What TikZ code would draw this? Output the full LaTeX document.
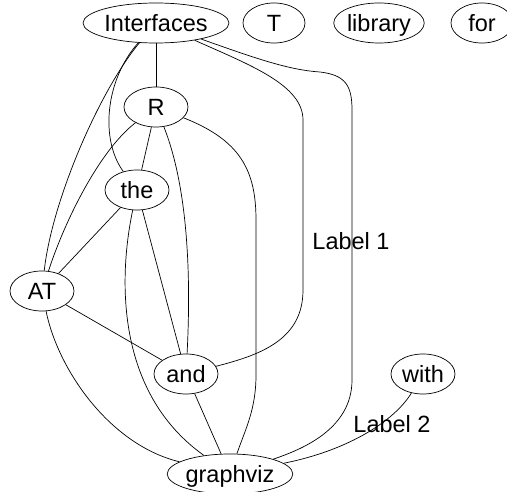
\documentclass[tikz,border=0pt]{standalone}
\usepackage{fontspec}
\setmainfont{Liberation Sans}
\usetikzlibrary{shapes.geometric}
\begin{document}
\begin{tikzpicture}[x=1pt,y=-1pt,
  vtx/.style={draw,ellipse,inner sep=0pt,minimum height=40pt,line width=0.7pt,
    font=\fontsize{23.5}{27}\selectfont,text height=17pt,text depth=0pt},
  lbl/.style={inner sep=0pt,font=\fontsize{23.5}{27}\selectfont,text height=17pt,text depth=0pt},
  edge/.style={line width=0.7pt}]
\useasboundingbox (0,0) rectangle (507,492);
\node[vtx,minimum width=114pt] (Interfaces) at (156,23) {Interfaces};
\node[vtx,minimum width=62pt] (T) at (274,23) {T};
\node[vtx,minimum width=82pt] (library) at (379,23) {library};
\node[vtx,minimum width=62pt] (for) at (482,23) {for};
\node[vtx,minimum width=64pt] (R) at (156,107) {R};
\node[vtx,minimum width=64pt] (the) at (137,190) {the};
\node[vtx,minimum width=64pt] (AT) at (42,291) {AT};
\node[vtx,minimum width=64pt] (and) at (186,374) {and};
\node[vtx,minimum width=64pt] (with) at (423,374) {with};
\node[vtx,minimum width=102pt] (graphviz) at (230,474) {graphviz};
\node[lbl] (l1) at (351,241) {Label 1};
\node[lbl] (l2) at (392,424) {Label 2};
\begin{scope}[edge]
\draw (Interfaces) -- (R);
\draw (Interfaces) .. controls (100,90) and (52,200) .. (AT);
\draw (Interfaces) .. controls (105,80) and (100,140) .. (the);
\draw (R) .. controls (100,150) and (65,220) .. (AT);
\draw (R) -- (the);
\draw (R) .. controls (185,180) and (192,260) .. (and);
\draw (R) .. controls (240,140) and (256,170) .. (256,220) -- (256,375) .. controls (256,410) and (245,430) .. (graphviz);
\draw (the) -- (AT);
\draw (the) -- (and);
\draw (the) .. controls (120,270) and (112,390) .. (graphviz);
\draw (AT) -- (and);
\draw (AT) .. controls (58,370) and (110,445) .. (graphviz);
\draw (and) -- (graphviz);
\draw (Interfaces) .. controls (250,65) and (303,85) .. (303,120) -- (303,290) .. controls (303,340) and (260,355) .. (and);
\draw (Interfaces) .. controls (260,60) and (290,70) .. (320,72) .. controls (345,75) and (352,85) .. (352,110) -- (352,380) .. controls (352,430) and (300,450) .. (graphviz);
\draw (with) .. controls (395,420) and (350,450) .. (graphviz);
\end{scope}
\end{tikzpicture}
\end{document}
